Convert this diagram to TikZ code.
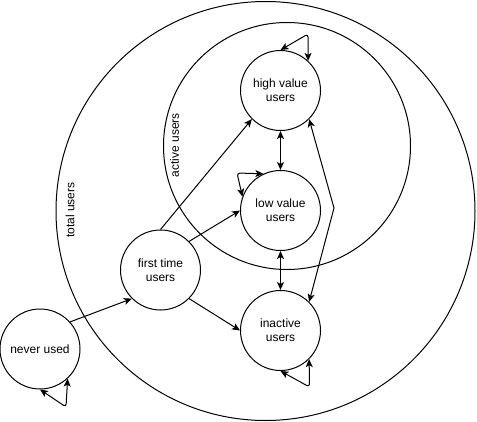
\documentclass[tikz,border=0pt]{standalone}
\usepackage{fontspec}
\setmainfont{Liberation Sans}
\usetikzlibrary{arrows.meta, positioning}

\begin{document}
\begin{tikzpicture}[
      x=1pt, y=-1pt,
      every node/.style={font=\fontsize{12}{14}\selectfont},
      state/.style={circle, draw, line width=1pt, minimum size=80pt, inner sep=0pt, align=center},
      region/.style={circle, draw, line width=1pt, inner sep=0pt},
      tag/.style={rotate=90},
      arrow/.style={-{Stealth[length=8pt, width=7pt, inset=2pt]}, line width=1pt},
      twoway/.style={{Stealth[length=8pt, width=7pt, inset=2pt]}-{Stealth[length=8pt, width=7pt, inset=2pt]}, line width=1pt},
      selfloop/.style={twoway, rounded corners=3pt}
    ]
    \useasboundingbox (0,0) rectangle (477,421);

    % user groups
    \node[region, minimum size=419pt] (total) at (265.5,211) {};
    \node[region, minimum size=247pt] (active) at (287,146) {};
    \node[tag] (totallabel) at (70,210) {total users};
    \node[tag] (activelabel) at (174.5,145) {active users};

    % states
    \node[state] (high) at (280.5,90.5) {high value\\users};
    \node[state, below=39pt of high] (low) {low value\\users};
    \node[state, below=39pt of low] (inactive) {inactive\\users};
    \node[state] (first) at (160.5,270) {first time\\users};
    \node[state] (never) at (40,349) {never used};

    % transitions
    \draw[arrow] (never.42) -- (first.225);
    \draw[arrow] (first.north) -- (high.225);
    \draw[arrow] (first.45) -- (low.west);
    \draw[arrow] (first.-45) -- (inactive.west);
    \draw[twoway] (high) -- (low);
    \draw[twoway] (low) -- (inactive);
    \coordinate (bend) at (334,208);
    \draw[twoway] (high.-45) -- (bend) -- (inactive.45);

    % staying in the same state
    \coordinate (highturn) at (308,34);
    \coordinate (lowturn) at (237,173);
    \coordinate (inactiveturn) at (309.5,387);
    \coordinate (neverturn) at (66,407);
    \draw[selfloop] (high.north) -- (highturn) -- (high.47);
    \draw[selfloop] (low.115) -- (lowturn) -- (low.160);
    \draw[selfloop] (inactive.south) -- (inactiveturn) -- (inactive.-45);
    \draw[selfloop] (never.south) -- (neverturn) -- (never.-47);
  \end{tikzpicture}
\end{document}
